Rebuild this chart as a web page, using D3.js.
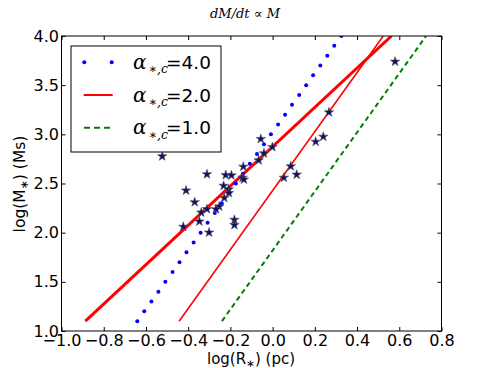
<!DOCTYPE html>
<html>
<head>
<meta charset="utf-8">
<script src="https://cdn.jsdelivr.net/npm/d3@7"></script>
<style>
  body { margin: 0; background: #fff; }
  text { font-family: "DejaVu Sans", sans-serif; }
</style>
</head>
<body>
<div id="chart"></div>
<script>
// observed clusters (stars)
const starLogR = [-0.523, -0.311, -0.222, -0.195, -0.410, -0.232, -0.208, -0.207, -0.369, -0.229,
                  -0.253, -0.268, -0.311, -0.338, -0.347, -0.181, -0.181, -0.423, -0.301, -0.139,
                  -0.142, -0.136, -0.056, -0.041, -0.066, -0.001, 0.086, 0.053, 0.114, 0.204,
                  0.240, 0.267, 0.580];
const starLogM = [2.777, 2.594, 2.586, 2.583, 2.429, 2.477, 2.441, 2.403, 2.310, 2.353,
                  2.266, 2.238, 2.239, 2.205, 2.114, 2.131, 2.078, 2.060, 2.002, 2.671,
                  2.559, 2.541, 2.953, 2.807, 2.736, 2.871, 2.675, 2.559, 2.590, 2.925,
                  2.976, 3.224, 3.739];

// model alpha = 4.0 (blue dots)
const a4LogR = [-0.641, -0.608, -0.574, -0.541, -0.508, -0.474, -0.441, -0.408, -0.374, -0.341,
                -0.308, -0.274, -0.241, -0.208, -0.174, -0.141, -0.108, -0.074, -0.041, -0.008,
                0.026, 0.059, 0.092, 0.126, 0.159, 0.192, 0.226, 0.259, 0.292, 0.326];
const a4LogM = [1.1, 1.2, 1.3, 1.4, 1.5, 1.6, 1.7, 1.8, 1.9, 2.0,
                2.1, 2.2, 2.3, 2.4, 2.5, 2.6, 2.7, 2.8, 2.9, 3.0,
                3.1, 3.2, 3.3, 3.4, 3.5, 3.6, 3.7, 3.8, 3.9, 4.0];

// model alpha = 2.0 (red lines)
const a2ThickLogR = [-0.887, 0.563];
const a2ThickLogM = [1.1, 4.0];
const a2ThinLogR = [-0.443, 0.524];
const a2ThinLogM = [1.1, 4.0];

// model alpha = 1.0 (green dashed)
const a1LogR = [-0.240, 0.727];
const a1LogM = [1.1, 4.0];

const xTicks = [-1.0, -0.8, -0.6, -0.4, -0.2, 0.0, 0.2, 0.4, 0.6, 0.8];
const yTicks = [1.0, 1.5, 2.0, 2.5, 3.0, 3.5, 4.0];
const legendValues = ['4.0', '2.0', '1.0'];

const svgWidth = 491, svgHeight = 368;
const margin = {top: 36, right: 49.5, bottom: 37, left: 61.5};
const width = svgWidth - margin.left - margin.right;
const height = svgHeight - margin.top - margin.bottom;

const svg = d3.select('#chart').append('svg')
  .attr('width', svgWidth)
  .attr('height', svgHeight);

const g = svg.append('g')
  .attr('transform', `translate(${margin.left},${margin.top})`);

const xScale = d3.scaleLinear().domain([-1.0, 0.8]).range([0, width]);
const yScale = d3.scaleLinear().domain([1.0, 4.0]).range([height, 0]);

g.append('clipPath').attr('id', 'clip')
  .append('rect').attr('width', width).attr('height', height);

const plot = g.append('g').attr('clip-path', 'url(#clip)');

const line = d3.line().x(d => xScale(d[0])).y(d => yScale(d[1]));
const zip = (a, b) => a.map((v, i) => [v, b[i]]);

// green dashed
plot.append('path')
  .attr('d', line(zip(a1LogR, a1LogM)))
  .attr('fill', 'none')
  .attr('stroke', '#008000')
  .attr('stroke-width', 2)
  .attr('stroke-dasharray', '5,3.5');

// red lines
plot.append('path')
  .attr('d', line(zip(a2ThinLogR, a2ThinLogM)))
  .attr('fill', 'none')
  .attr('stroke', '#ff0000')
  .attr('stroke-width', 1.6);

plot.append('path')
  .attr('d', line(zip(a2ThickLogR, a2ThickLogM)))
  .attr('fill', 'none')
  .attr('stroke', '#ff0000')
  .attr('stroke-width', 3);

// blue dots
plot.selectAll('circle.a4')
  .data(zip(a4LogR, a4LogM))
  .enter().append('circle')
  .attr('class', 'a4')
  .attr('cx', d => xScale(d[0]))
  .attr('cy', d => yScale(d[1]))
  .attr('r', 2)
  .attr('fill', '#0000ff');

// stars
plot.selectAll('path.star')
  .data(zip(starLogR, starLogM))
  .enter().append('path')
  .attr('class', 'star')
  .attr('d', d3.symbol(d3.symbolStar).size(28))
  .attr('transform', d => `translate(${xScale(d[0])},${yScale(d[1])})`)
  .attr('fill', '#10106a')
  .attr('stroke', '#555')
  .attr('stroke-width', 0.6);

// axes (ticks inside)
const fmt = d3.format('.1f');
const xAxis = g.append('g')
  .attr('transform', `translate(0,${height})`)
  .call(d3.axisBottom(xScale).tickValues(xTicks).tickFormat(fmt).tickSize(-4).tickPadding(3.5));
const yAxis = g.append('g')
  .call(d3.axisLeft(yScale).tickValues(yTicks).tickFormat(fmt).tickSize(-4).tickPadding(2.5));
g.append('g')
  .call(d3.axisTop(xScale).tickValues(xTicks).tickFormat('').tickSize(-4));
g.append('g')
  .attr('transform', `translate(${width},0)`)
  .call(d3.axisRight(yScale).tickValues(yTicks).tickFormat('').tickSize(-4));

g.selectAll('.domain').remove();
g.selectAll('.tick line').attr('stroke', '#000');
xAxis.selectAll('text').style('font-size', '16px').attr('fill', '#000');
yAxis.selectAll('text').style('font-size', '16px').attr('fill', '#000');

g.append('rect')
  .attr('width', width).attr('height', height)
  .attr('fill', 'none').attr('stroke', '#000').attr('stroke-width', 1);

// legend
const legend = g.append('g').attr('transform', `translate(${71 - margin.left},${46 - margin.top})`);
legend.append('rect')
  .attr('width', 150).attr('height', 106)
  .attr('fill', '#fff').attr('stroke', '#000').attr('stroke-width', 1);

legendValues.forEach((v, i) => {
  const yc = 16.3 + i * 32.7;
  if (i === 0) {
    [13.3, 40.7].forEach(cx => legend.append('circle')
      .attr('cx', cx).attr('cy', yc).attr('r', 2).attr('fill', '#0000ff'));
  } else if (i === 1) {
    legend.append('line').attr('x1', 12.7).attr('x2', 41.7).attr('y1', yc).attr('y2', yc)
      .attr('stroke', '#ff0000').attr('stroke-width', 2);
  } else {
    legend.append('line').attr('x1', 13).attr('x2', 42).attr('y1', yc).attr('y2', yc)
      .attr('stroke', '#008000').attr('stroke-width', 2).attr('stroke-dasharray', '6,4');
  }
  const t = legend.append('text').attr('y', yc + 6.7).style('font-size', '18.5px').attr('fill', '#000');
  t.append('tspan').attr('x', 62).style('font-family', '"DejaVu Serif", serif')
    .style('font-style', 'italic').style('font-size', '20px').text('α');
  t.append('tspan').attr('x', 77.5).attr('dy', 4.3).style('font-family', '"DejaVu Serif", serif')
    .style('font-style', 'italic').style('font-size', '12.5px').text('∗,c');
  t.append('tspan').attr('x', 95).attr('dy', -4.3).text('=' + v);
});

// axis labels
svg.append('text')
  .attr('x', 251).attr('y', 363.5)
  .attr('text-anchor', 'middle')
  .style('font-size', '15px')
  .call(t => {
    t.append('tspan').text('log(R');
    t.append('tspan').attr('dy', 3).style('font-size', '10.5px').text('∗');
    t.append('tspan').attr('dy', -3).text(') (pc)');
  });

svg.append('text')
  .attr('transform', 'translate(25,184) rotate(-90)')
  .attr('text-anchor', 'middle')
  .style('font-size', '15.5px')
  .call(t => {
    t.append('tspan').text('log(M');
    t.append('tspan').attr('dy', 3).style('font-size', '11px').text('∗');
    t.append('tspan').attr('dy', -3).text(') (Ms)');
  });

// title
svg.append('text')
  .attr('x', 245).attr('y', 17.5)
  .attr('text-anchor', 'middle')
  .style('font-family', '"DejaVu Serif", serif')
  .style('font-size', '13px')
  .call(t => {
    t.append('tspan').style('font-style', 'italic').text('dM/dt');
    t.append('tspan').text(' ∝ ');
    t.append('tspan').style('font-style', 'italic').text('M');
  });
</script>
</body>
</html>
